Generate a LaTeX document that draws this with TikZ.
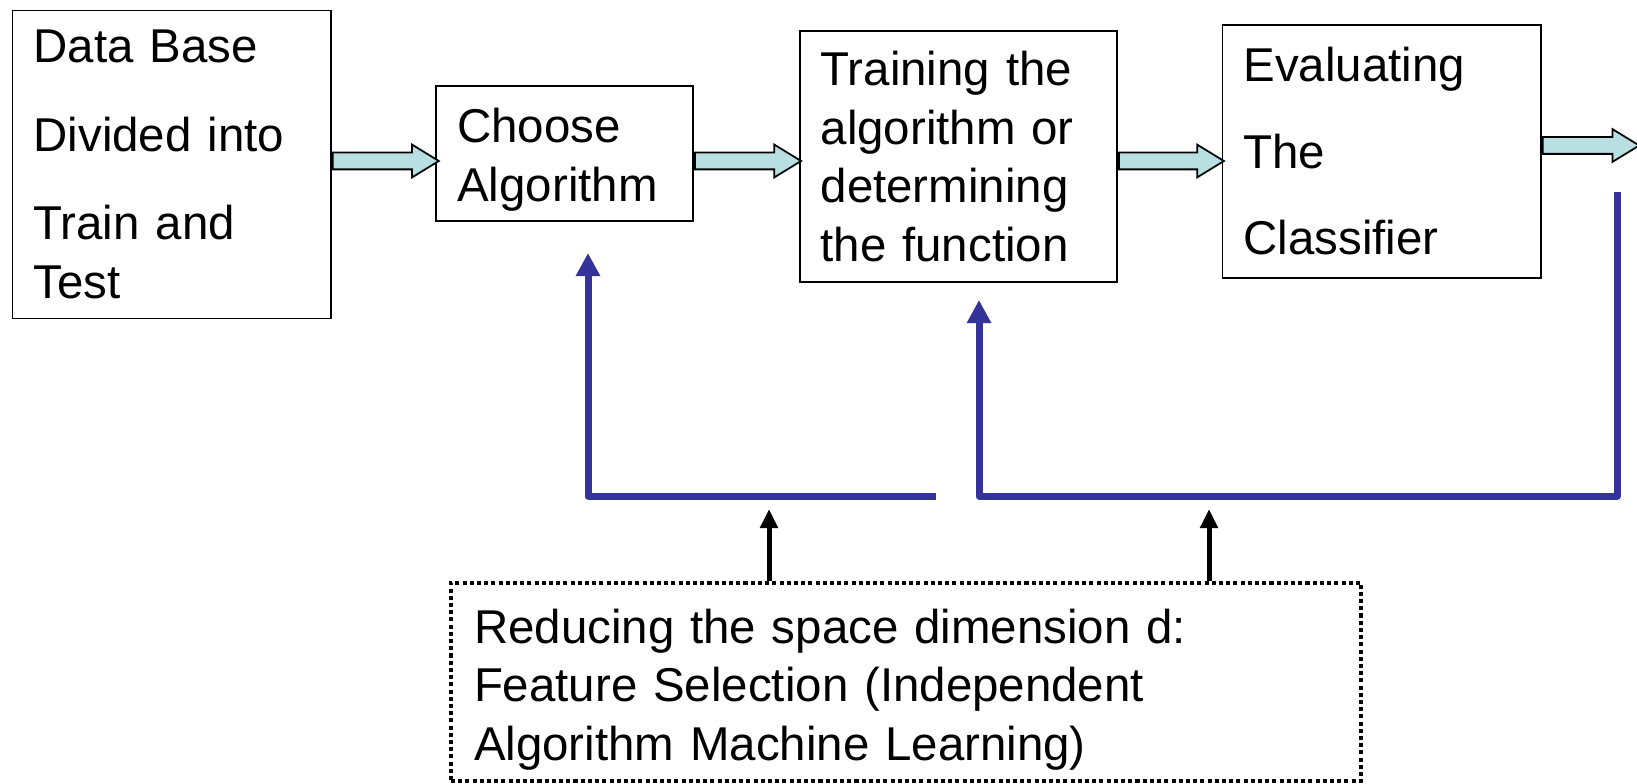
\documentclass[tikz,border=0pt]{standalone}
\usepackage{fontspec}
\setmainfont{Liberation Sans}
\usepackage{xcolor}
\usepackage{tikz}
\usetikzlibrary{arrows.meta,shapes.arrows,calc}

\definecolor{barrowfill}{RGB}{184,224,226}
\definecolor{fbblue}{RGB}{51,51,153}

\begin{document}
\begin{tikzpicture}[
  font=\fontsize{27}{33.5}\selectfont, >=Stealth,
  box/.style={draw, line width=1pt, align=left, inner xsep=0.42cm, inner ysep=0pt},
  redbox/.style={box, inner xsep=0.46cm, line width=2.3pt, dash pattern=on 2.3pt off 1.8pt},
  barrow/.style={draw, line width=1pt, fill=barrowfill, single arrow, anchor=tail,
                 single arrow head extend=0.16cm, single arrow tip angle=63,
                 inner xsep=0pt, inner ysep=0.15cm},
  fb/.style={line width=0.14cm, color=fbblue, line join=round,
             -{Triangle[length=0.46cm,width=0.46cm]}},
  up/.style={line width=0.1cm, -{Triangle[length=0.38cm,width=0.34cm]}},
]
\useasboundingbox (0,0) rectangle (32.74,-15.68);

\node[box, text width=5.53cm, minimum height=6.16cm] (db) at (3.436,-3.288)
  {Data Base\\[0.6cm] Divided into\\[0.6cm] Train and\\ Test};
\node[box, text width=4.30cm, minimum height=2.714cm, text height=0.95cm] (algo) at (11.296,-3.07)
  {Choose\\ Algorithm};
\node[box, text width=5.51cm, minimum height=5.012cm] (train) at (19.168,-3.132)
  {Training the\\ algorithm or\\ determining\\ the function};
\node[box, text width=5.53cm, minimum height=5.052cm] (eval) at (27.634,-3.028)
  {Evaluating\\[0.55cm] The\\[0.55cm] Classifier};
\node[redbox, text width=17.28cm, minimum height=3.97cm, text height=1.0cm] (reduce) at (18.12,-13.636)
  {Reducing the space dimension d:\\ Feature Selection (Independent\\ Algorithm Machine Learning)};

% block arrows between the steps
\node[barrow, minimum height=2.12cm] (a1) at (db.east |- 0,-3.22) {};
\node[barrow, minimum height=2.12cm] (a2) at (algo.east |- 0,-3.22) {};
\node[barrow, minimum height=2.1cm]  (a3) at (train.east |- 0,-3.22) {};
\node[barrow, minimum height=1.93cm] (a4) at (eval.east |- 0,-2.91) {};

% feedback lines
\coordinate (fb1)     at (18.72,-9.92);
\coordinate (algoin)  at (11.76,-5.06);
\coordinate (fb2)     at (32.34,-3.84);
\coordinate (trainin) at (19.58,-6.0);
\draw[fb] (fb1) -| (algoin);
\draw[fb] (fb2) -- (fb2 |- fb1) -| (trainin);

% arrows up from the reduction box
\coordinate (up1) at (15.38,-10.18);
\coordinate (up2) at (24.18,-10.18);
\draw[up] (reduce.north -| up1) -- (up1);
\draw[up] (reduce.north -| up2) -- (up2);
\end{tikzpicture}
\end{document}
